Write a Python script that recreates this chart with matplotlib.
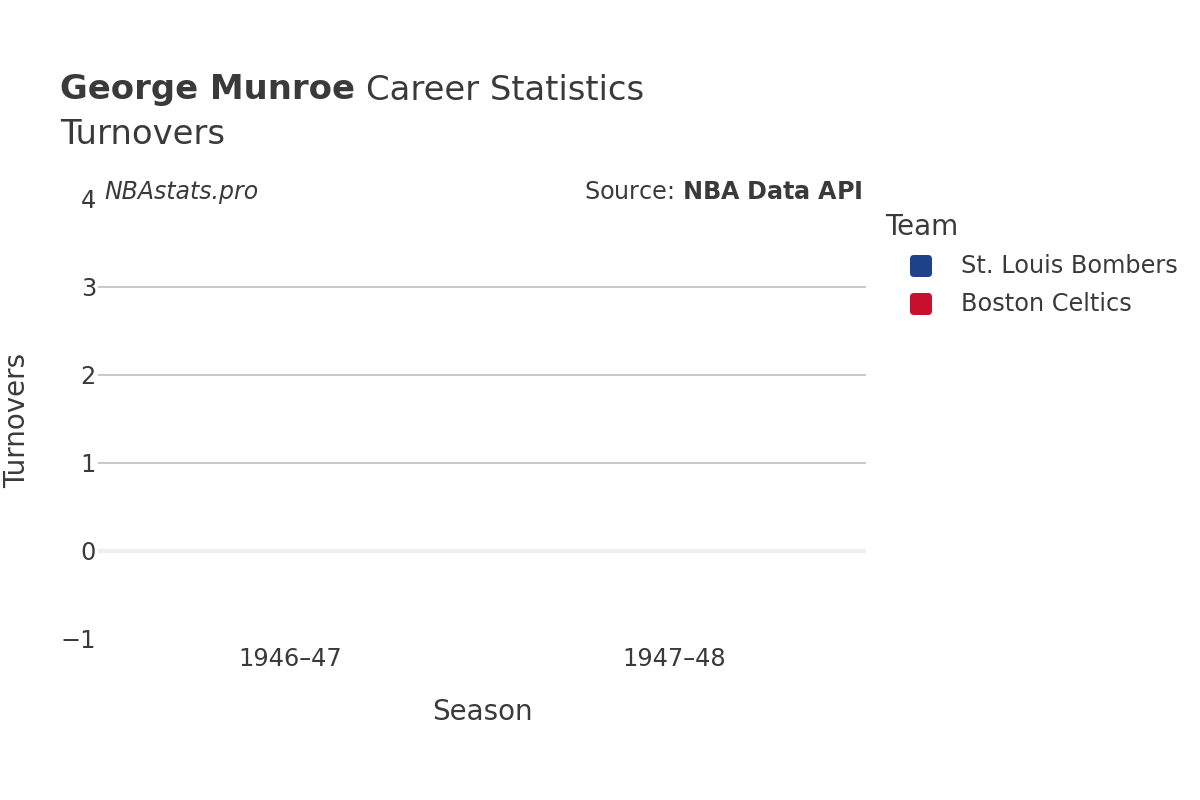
import matplotlib.pyplot as plt
import numpy as np
from matplotlib.patches import FancyBboxPatch

# Datos (no hay valores de pérdidas registrados en estas temporadas)
seasons = ["1946–47", "1947–48"]
teams = ["St. Louis Bombers", "Boston Celtics"]
team_colors = ["#1d428a", "#c8102e"]
turnovers_stl = [np.nan, np.nan]
turnovers_bos = [np.nan, np.nan]
y_ticks = [-1, 0, 1, 2, 3, 4]

text_col = "#3a3a3a"
plt.rcParams["font.family"] = ["DejaVu Sans"]

fig = plt.figure(figsize=(12, 8), dpi=100)
ax = fig.add_axes([98 / 1200, 1 - 639 / 800, 768 / 1200, 440 / 800])

x = np.arange(len(seasons))
ax.plot(x, turnovers_stl, color=team_colors[0], marker="o")
ax.plot(x, turnovers_bos, color=team_colors[1], marker="o")

ax.set_xlim(-0.5, 1.5)
ax.set_ylim(-1, 4)
ax.set_xticks(x)
ax.set_xticklabels(seasons)
ax.set_yticks(y_ticks)
ax.set_yticklabels([str(t).replace("-", "−") for t in y_ticks])

# rejilla
for t in [1, 2, 3]:
    ax.axhline(t, color="#c4c4c4", linewidth=1.3, zorder=0)
ax.axhline(0, color="#eeeeee", linewidth=3, zorder=0)

for s in ax.spines.values():
    s.set_visible(False)
ax.tick_params(axis="both", length=0, labelsize=17.3, colors=text_col)
ax.tick_params(axis="x", pad=6)
ax.tick_params(axis="y", pad=1.5)

ax.set_xlabel("Season", fontsize=20, color=text_col, labelpad=19)
fig.text(17 / 1200, 1 - 420 / 800, "Turnovers", rotation=90, fontsize=20,
         color=text_col, ha="center", va="center")

# títulos
t1 = fig.text(60 / 1200, 1 - 90 / 800, "George Munroe", fontsize=24.4, fontweight="bold",
              color=text_col, va="center")
fig.canvas.draw()
bb = t1.get_window_extent()
fig.text((bb.x1 + 11) / 1200, 1 - 90 / 800, "Career Statistics", fontsize=24.4,
         color=text_col, va="center")
fig.text(60 / 1200, 1 - 134 / 800, "Turnovers", fontsize=24.4, color=text_col, va="center")

fig.text(104 / 1200, 1 - 192 / 800, "NBAstats.pro", fontsize=17, style="italic",
         color=text_col, va="center")
fig.text(862 / 1200, 1 - 192 / 800, r"Source: $\bf{NBA\ Data\ API}$", fontsize=17.2,
         color=text_col, va="center", ha="right")

# leyenda
fig.text(885 / 1200, 1 - 227 / 800, "Team", fontsize=20, color=text_col, va="center")
for i, (name, col) in enumerate(zip(teams, team_colors)):
    yc = 800 - (266 + 38 * i)
    box = FancyBboxPatch((910, yc - 11), 22, 22, boxstyle="round,pad=0,rounding_size=4",
                         facecolor=col, edgecolor="none", transform=None)
    fig.patches.append(box)
    fig.text(961 / 1200, yc / 800, name, fontsize=17.3, color=text_col, va="center")

fig.savefig("out.png", dpi=100)
